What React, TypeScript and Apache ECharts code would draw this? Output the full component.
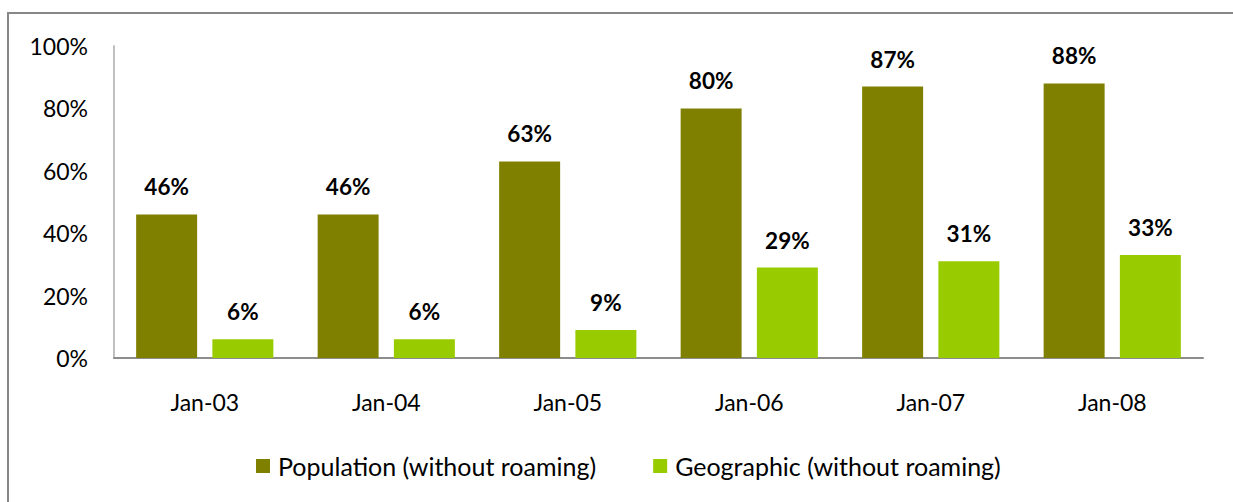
import React, { useEffect, useRef } from "react";
import * as echarts from "echarts";

const categories = ["Jan-03", "Jan-04", "Jan-05", "Jan-06", "Jan-07", "Jan-08"];
const populationValues = [46, 46, 63, 80, 87, 88];
const geographicValues = [6, 6, 9, 29, 31, 33];
const seriesNames = ["Population (without roaming)", "Geographic (without roaming)"];

const FONT = "Lato";

export default function App() {
  const ref = useRef<HTMLDivElement>(null);
  useEffect(() => {
    const chart = echarts.init(ref.current!, null, { renderer: "svg" });
    const labelStyle = {
      show: true,
      position: "top" as const,
      distance: 16,
      formatter: (p: any) => p.value + "%",
      fontFamily: FONT,
      fontWeight: "bold" as const,
      fontSize: 22.5,
      color: "#000",
    };
    chart.setOption({
      animation: false,
      backgroundColor: "#fff",
      graphic: [
        {
          type: "rect",
          shape: { x: 8, y: 13, width: 1400, height: 700 },
          style: { fill: "none", stroke: "#878787", lineWidth: 2 },
          silent: true,
        },
      ],
      grid: { left: 114, right: 30, top: 46, bottom: 144, containLabel: false },
      legend: {
        left: 256,
        top: 453.5,
        padding: 0,
        itemWidth: 14,
        itemHeight: 14,
        itemGap: 57,
        icon: "rect",
        textStyle: {
          fontFamily: FONT,
          fontSize: 25,
          lineHeight: 25,
          color: "#000",
          padding: [0, 0, 0, 3],
        },
        data: seriesNames,
      },
      xAxis: {
        type: "category",
        data: categories,
        axisLine: { lineStyle: { color: "#8c8c8c", width: 2 } },
        axisTick: { show: false },
        axisLabel: { fontFamily: FONT, fontSize: 23, color: "#000", margin: 32 },
      },
      yAxis: {
        type: "value",
        min: 0,
        max: 100,
        interval: 20,
        axisLine: { show: true, lineStyle: { color: "#c0c0c0", width: 2 } },
        axisTick: { show: false },
        splitLine: { show: false },
        axisLabel: {
          fontFamily: FONT,
          fontSize: 23,
          color: "#000",
          margin: 26,
          formatter: (v: number) => v + "%",
        },
      },
      series: [
        {
          name: seriesNames[0],
          type: "bar",
          data: populationValues,
          barWidth: "33.6%",
          barGap: "25%",
          itemStyle: { color: "#808000" },
          label: labelStyle,
        },
        {
          name: seriesNames[1],
          type: "bar",
          data: geographicValues,
          barWidth: "33.6%",
          barGap: "25%",
          itemStyle: { color: "#99cc00" },
          label: labelStyle,
        },
      ],
    });
    return () => chart.dispose();
  }, []);
  return (
    <div
      ref={ref}
      style={{ position: "absolute", left: 0, top: 0, width: 1233, height: 502 }}
    />
  );
}
